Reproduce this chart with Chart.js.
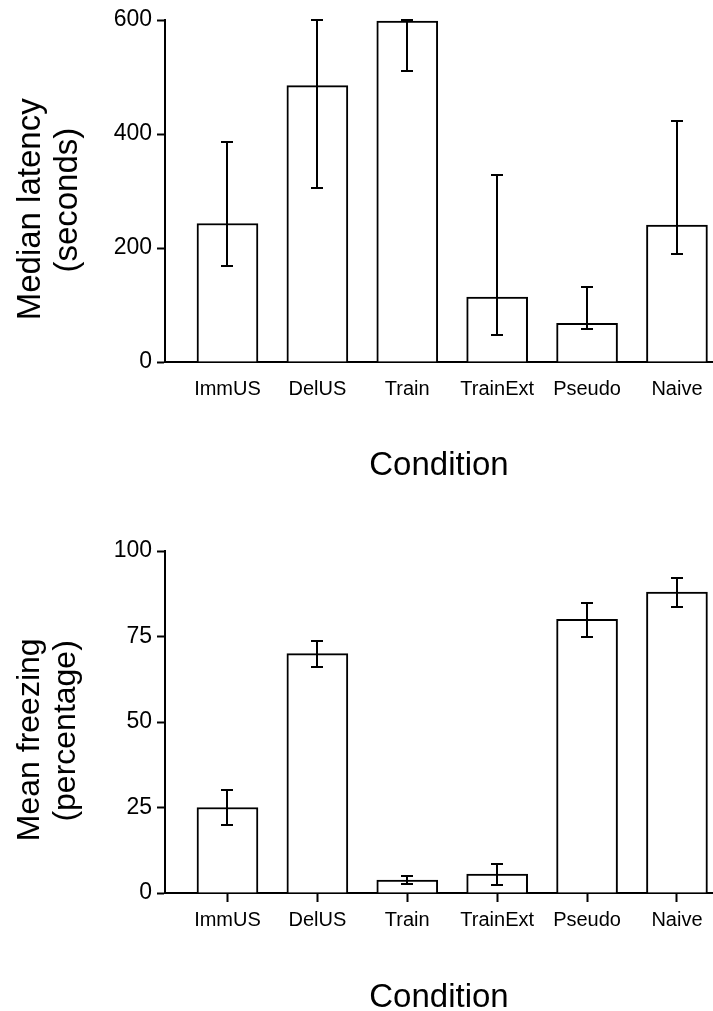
<!DOCTYPE html>
<html><head><meta charset="utf-8">
<script src="https://cdn.jsdelivr.net/npm/chart.js@4/dist/chart.umd.min.js"></script>
<style>
html,body{margin:0;padding:0;background:#fff;overflow:hidden;width:713px;height:1011px;position:relative}
canvas{display:block;position:absolute;left:0}
#c1{top:0}
#c2{top:505px}
</style></head>
<body>
<canvas id="c1" width="713" height="505"></canvas>
<canvas id="c2" width="713" height="506"></canvas>
<script>
// ---- data ----
const categories = ['ImmUS', 'DelUS', 'Train', 'TrainExt', 'Pseudo', 'Naive'];

const latencyMedian  = [243, 485, 598, 114, 68, 240];
const latencyErrLow  = [169, 306, 510, 47, 58, 190];
const latencyErrHigh = [386, 600, 600, 328, 132, 423];
const latencyTicks   = [0, 200, 400, 600];

const freezingMean    = [25, 70, 3.8, 5.5, 80, 88];
const freezingErrLow  = [19.8, 66, 2.7, 2.4, 74.8, 83.5];
const freezingErrHigh = [30.2, 73.8, 5.1, 8.5, 84.9, 92];
const freezingTicks   = [0, 25, 50, 75, 100];

const FONT = '"Liberation Sans", Arial, Helvetica, sans-serif';

const errorBars = {
  id: 'errorBars',
  afterDatasetsDraw(chart, args, opts) {
    const { ctx, scales: { x, y } } = chart;
    ctx.save();
    ctx.strokeStyle = '#000';
    ctx.lineWidth = 2;
    opts.low.forEach((lo, i) => {
      const hi = opts.high[i];
      const px = Math.round(x.getPixelForValue(i));
      const yl = Math.round(y.getPixelForValue(lo));
      const yh = Math.round(y.getPixelForValue(hi));
      ctx.beginPath();
      ctx.moveTo(px, yl); ctx.lineTo(px, yh);
      ctx.moveTo(px - 6, yl); ctx.lineTo(px + 6, yl);
      ctx.moveTo(px - 6, yh); ctx.lineTo(px + 6, yh);
      ctx.stroke();
    });
    ctx.restore();
  }
};

function makeChart(id, values, lo, hi, ticks, ymax, yTitle, yTitleSize, showXTicks,
                   chartTop, chartBottom, H, xTitleBottomPad) {
  return new Chart(document.getElementById(id), {
    type: 'bar',
    data: {
      datasets: [{
        data: values.map((v, i) => ({ x: i, y: v })),
        backgroundColor: '#fff',
        borderColor: '#000',
        borderWidth: 2,
        barThickness: 61
      }]
    },
    plugins: [errorBars],
    options: {
      responsive: false,
      animation: false,
      devicePixelRatio: 1,
      layout: { padding: { left: 0, right: 0, top: chartTop, bottom: 0 } },
      plugins: {
        legend: { display: false },
        tooltip: { enabled: false },
        errorBars: { low: lo, high: hi }
      },
      scales: {
        x: {
          type: 'linear',
          min: -0.695,
          max: 5.401,
          offset: false,
          afterBuildTicks: s => { s.ticks = categories.map((c, i) => ({ value: i })); },
          border: { display: true, color: '#000', width: 2 },
          grid: { display: true, drawOnChartArea: false, offset: false, tickLength: 9,
                  tickColor: showXTicks ? '#000' : 'rgba(0,0,0,0)', tickWidth: 2 },
          ticks: { color: '#000', font: { family: FONT, size: 20, lineHeight: 1.2 }, padding: 6,
                   autoSkip: false, maxRotation: 0, minRotation: 0,
                   callback: (v) => categories[v] },
          title: { display: true, text: 'Condition', color: '#000',
                   font: { family: FONT, size: 33, lineHeight: 1.0 },
                   padding: { top: 0, bottom: xTitleBottomPad } },
          afterFit: s => { s.height = H - chartBottom; }
        },
        y: {
          min: 0,
          max: ymax,
          afterBuildTicks: s => { s.ticks = ticks.map(v => ({ value: v })); },
          border: { display: true, color: '#000', width: 2 },
          grid: { display: true, drawOnChartArea: false, tickLength: 8, tickColor: '#000', tickWidth: 2 },
          ticks: { color: '#000', font: { family: FONT, size: 23 }, padding: 5 },
          title: { display: true, text: yTitle, color: '#000',
                   font: { family: FONT, size: yTitleSize, lineHeight: 1.12 },
                   padding: { top: 12.5, bottom: 0 } },
          afterFit: s => { s.width = 165; }
        }
      }
    }
  });
}

makeChart('c1', latencyMedian, latencyErrLow, latencyErrHigh, latencyTicks, 600,
  ['Median latency    ', '(seconds)  '], 33, false, 20, 362, 505, 22.5);
makeChart('c2', freezingMean, freezingErrLow, freezingErrHigh, freezingTicks, 100,
  ['Mean freezing    ', '(percentage)  '], 32, true, 46, 388, 506, -3.5);
</script>
</body></html>
